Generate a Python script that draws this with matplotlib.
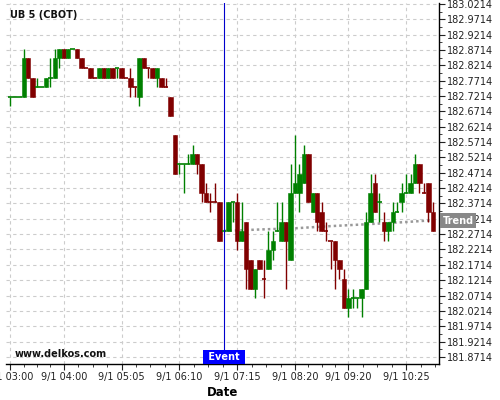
import numpy as np
import matplotlib
matplotlib.use('Agg')
import matplotlib.pyplot as plt
import matplotlib.transforms as mtransforms
from matplotlib.ticker import FixedLocator, FormatStrFormatter

# UB 5-minute bars from 03:00, prices quoted in 32nds above 182.00
base_price = 182.0
opens = [23, 23, 23, 23, 27, 25, 24, 24, 24, 25, 25, 27, 28, 27, 28, 28, 27, 26, 26, 25,
         25, 26, 25, 26, 26, 26, 25, 25, 24, 23, 27, 26, 26, 25, 25, 24, 23, 19, 16, 16,
         16, 16, 17, 16, 13, 12, 12, 12, 9, 9, 12, 12, 8, 10, 6, 3, 6, 4, 5, 7,
         9, 8, 10, 6, 13, 13, 14, 17, 11, 13, 11, 9, 8, 8, 6, 4, 1, 2, 2, 2,
         3, 10, 14, 12, 10, 9, 10, 11, 12, 13, 13, 14, 16, 13, 14, 11]
highs = [23, 23, 23, 28, 27, 25, 25, 24, 25, 27, 28, 28, 28, 28, 28, 28, 27, 26, 26, 25,
         26, 26, 26, 26, 26, 26, 25, 26, 24, 27, 27, 26, 26, 26, 25, 25, 23, 19, 16, 16,
         17, 18, 17, 16, 14, 13, 14, 12, 9, 12, 12, 13, 12, 10, 6, 5, 6, 6, 9, 9,
         12, 12, 10, 16, 19, 16, 18, 17, 13, 13, 12, 10, 8, 8, 6, 5, 3, 3, 2, 3,
         11, 15, 15, 13, 11, 10, 12, 12, 14, 15, 15, 17, 16, 14, 14, 12]
lows = [22, 23, 23, 23, 25, 23, 24, 24, 24, 24, 25, 26, 27, 27, 28, 27, 26, 26, 25, 25,
        25, 25, 25, 25, 25, 25, 25, 23, 23, 22, 26, 25, 25, 24, 24, 24, 21, 15, 15, 13,
        16, 16, 15, 12, 12, 11, 12, 8, 9, 9, 10, 7, 8, 3, 3, 2, 5, 2, 5, 6,
        9, 8, 3, 6, 13, 11, 14, 12, 11, 9, 9, 8, 5, 3, 4, 1, 0, 1, 1, 0,
        3, 10, 11, 10, 8, 8, 9, 11, 11, 13, 13, 14, 13, 13, 10, 9]
closes = [23, 23, 23, 27, 25, 23, 24, 24, 25, 25, 27, 28, 27, 28, 28, 27, 26, 26, 25, 25,
          26, 25, 26, 25, 26, 25, 25, 24, 24, 27, 26, 26, 25, 26, 24, 24, 21, 15, 16, 16,
          16, 17, 16, 13, 12, 12, 12, 8, 9, 12, 12, 8, 9, 5, 3, 5, 5, 4, 7, 8,
          9, 10, 8, 13, 14, 15, 17, 12, 13, 10, 9, 9, 8, 6, 5, 1, 2, 2, 2, 3,
          10, 13, 11, 12, 9, 10, 11, 11, 13, 13, 14, 16, 14, 13, 11, 9]

start_time = '03:00'
bar_minutes = 5
tick_times = ['03:00', '04:00', '05:05', '06:10', '07:15', '08:20', '09:20', '10:25']
event_time = '07:00'

# trend (dotted grey) after the event
trend_times = ['07:00', '07:40', '08:20', '09:00', '09:40', '10:20', '11:00']
trend_values = [182.2817, 182.2865, 182.2905, 182.2975, 182.3035, 182.3100, 182.3175]

y_tick_first = 181.8714
y_tick_step = 0.05
y_tick_count = 24


def bar_index(t):
    h, m = map(int, t.split(':'))
    h0, m0 = map(int, start_time.split(':'))
    return ((h * 60 + m) - (h0 * 60 + m0)) / bar_minutes


o = base_price + np.array(opens) / 32
h = base_price + np.array(highs) / 32
l = base_price + np.array(lows) / 32
c = base_price + np.array(closes) / 32
x = np.arange(len(o))

green = '#008000'
red = '#800000'

# colour: up/down by open-close, flat bars follow the change in close
colors = []
prev = green
for i in range(len(o)):
    if c[i] > o[i]:
        col = green
    elif c[i] < o[i]:
        col = red
    else:
        if i == 0 or c[i] == c[i - 1]:
            col = prev
        elif c[i] > c[i - 1]:
            col = green
        else:
            col = red
    colors.append(col)
    prev = col

fig = plt.figure(figsize=(5, 4), dpi=100)
ax = fig.add_axes([6 / 500, 1 - 364 / 400, 433 / 500, 361 / 400])

ax.vlines(x, l, h, colors=colors, linewidth=1, zorder=3)
body = np.abs(c - o)
flat = body == 0
ax.bar(x[~flat], body[~flat], bottom=np.minimum(o, c)[~flat], width=1.0,
       color=np.array(colors)[~flat], edgecolor=np.array(colors)[~flat], linewidth=0.4, zorder=4)
ax.hlines(c[flat], x[flat] - 0.5, x[flat] + 0.5, colors=np.array(colors)[flat], linewidth=1.2, zorder=4)

# trend
tx = [bar_index(t) for t in trend_times]
ax.plot(tx, trend_values, color='#999999', linestyle=(0, (1, 1.2)), linewidth=1.8, zorder=2)

# event
ex = bar_index(event_time)
ax.axvline(ex, color='#0000cc', linewidth=0.8, zorder=5)
trans = mtransforms.blended_transform_factory(ax.transData, ax.transAxes)
ax.text(ex, 0.006, ' Event ', transform=trans, ha='center', va='bottom', fontsize=7,
        fontweight='bold', color='white', zorder=6,
        bbox=dict(boxstyle='square,pad=0.2', facecolor='#0000ff', edgecolor='none'))

trans2 = mtransforms.blended_transform_factory(ax.transAxes, ax.transData)
ax.text(1.009, trend_values[-1] - 0.003, 'Trend', transform=trans2, ha='left', va='center', fontsize=7,
        fontweight='bold', color='white', zorder=10, clip_on=False,
        bbox=dict(boxstyle='square,pad=0.25', facecolor='#888888', edgecolor='none'))

ax.text(0.009, 0.967, 'UB 5 (CBOT)', transform=ax.transAxes, fontsize=7, fontweight='bold',
        va='center', ha='left', color='#111111')
ax.text(0.021, 0.028, 'www.delkos.com', transform=ax.transAxes, fontsize=7, fontweight='bold',
        va='center', ha='left', color='#111111')

# axes
ax.set_xlim(-1, 96.4)
ax.set_ylim(181.8484, 183.0243)

major_x = [bar_index(t) for t in tick_times]
minor_x = []
for a, b in zip(major_x[:-1], major_x[1:]):
    minor_x += list(np.linspace(a, b, 5)[1:-1])
step = (major_x[-1] - major_x[-2]) / 4
minor_x += [major_x[-1] + step, major_x[-1] + 2 * step]
ax.xaxis.set_major_locator(FixedLocator(major_x))
ax.xaxis.set_minor_locator(FixedLocator(minor_x))
ax.set_xticklabels(['9/1 ' + t for t in tick_times])

yt = y_tick_first + y_tick_step * np.arange(y_tick_count)
ax.yaxis.tick_right()
ax.yaxis.set_major_locator(FixedLocator(yt))
ax.yaxis.set_minor_locator(FixedLocator(yt[:-1] + y_tick_step / 2))
ax.yaxis.set_major_formatter(FormatStrFormatter('%.4f'))

ax.tick_params(which='major', labelsize=7, length=4, width=0.8, colors='#222222')
ax.tick_params(which='minor', length=2, width=0.6, colors='#222222')
ax.tick_params(axis='y', pad=2)
ax.tick_params(axis='x', pad=2)

ax.spines['left'].set_visible(False)
ax.spines['top'].set_visible(False)
ax.spines['right'].set_linewidth(1)
ax.spines['bottom'].set_linewidth(1)

ax.grid(True, which='major', color='#cccccc', linestyle=(0, (3, 3)), linewidth=0.8, zorder=0)
ax.set_axisbelow(True)

ax.set_xlabel('Date', fontsize=8.5, fontweight='bold', labelpad=3)

fig.savefig('out.png', dpi=100)
